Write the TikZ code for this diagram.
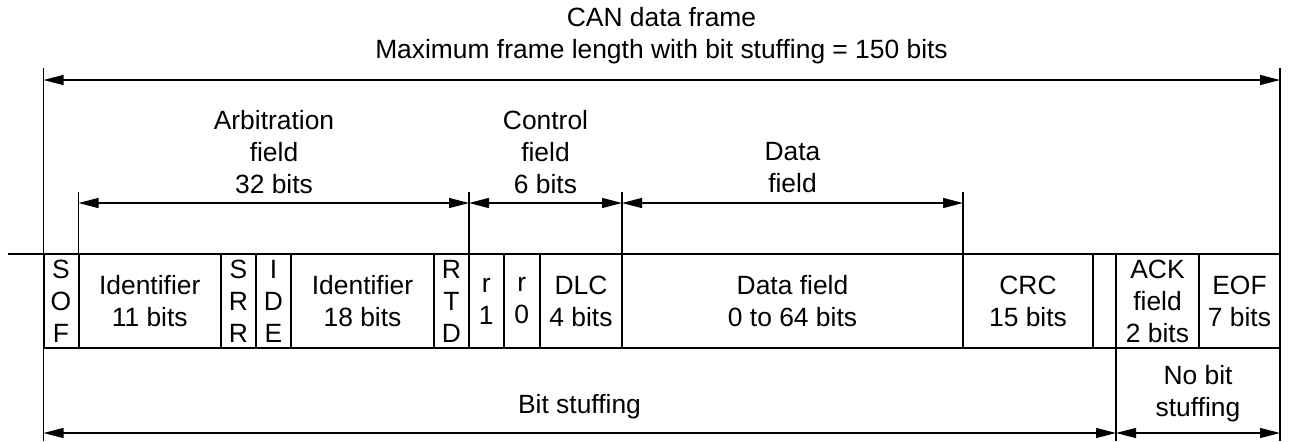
\documentclass[tikz,border=0pt]{standalone}
\usepackage{fontspec}
\setmainfont{Liberation Sans}
\usetikzlibrary{arrows.meta}
\newcommand\fsz{\fontsize{13.2}{16}\selectfont}
\begin{document}
\begin{tikzpicture}[x=0.5pt,y=-0.5pt,
  cell/.style={draw, line width=1pt, outer sep=0pt, minimum height=47pt, inner sep=0pt, align=center, font=\fsz},
  dim/.style={line width=0.6pt, {Triangle[length=10pt,width=5pt]}-{Triangle[length=10pt,width=5pt]}},
  ext/.style={line width=0.6pt},
  lbl/.style={align=center, font=\fsz, inner sep=0pt}]
\useasboundingbox (0,0) rectangle (1289,441);
% cells
\newcommand\cellnode[4]{\node[cell, minimum width={(#3-#2)*0.5pt}] (#1) at ({(#2+#3)/2},301) {#4};}
\cellnode{sof}{43.5}{78.5}{S\\O\\F}
\cellnode{ida}{78.5}{221}{Identifier\\11 bits}
\cellnode{srr}{221}{256}{S\\R\\R}
\cellnode{ide}{256}{291}{I\\D\\E}
\cellnode{idb}{291}{434}{Identifier\\18 bits}
\cellnode{rtd}{434}{469}{R\\T\\D}
\cellnode{rone}{469}{503.5}{r\\1}
\cellnode{rzero}{503.5}{540}{r\\0}
\cellnode{dlc}{540}{622}{DLC\\4 bits}
\cellnode{data}{622}{963}{Data field\\0 to 64 bits}
\cellnode{crc}{963}{1093}{CRC\\15 bits}
\cellnode{gap}{1093}{1116}{}
\cellnode{ack}{1116}{1199}{ACK\\field\\2 bits}
\cellnode{eof}{1199}{1280}{EOF\\7 bits}
% lead line
\coordinate (lead) at (8,254);
\draw[line width=1pt] (lead) -- (sof.north west);
% outer extension lines
\coordinate (Ltop) at (43.5,68);
\coordinate (Lbot) at (43.5,441);
\coordinate (Rtop) at (1280,68);
\coordinate (Rbot) at (1280,441);
\draw[ext] (Ltop) -- (Lbot);
\draw[ext] (Rtop) -- (Rbot);
\coordinate (Mbot) at (1116,441);
\draw[ext] (ack.south west) -- (Mbot);
% top extension lines
\coordinate (e1) at (78.5,192);
\coordinate (e2) at (469,192);
\coordinate (e3) at (622,192);
\coordinate (e4) at (963,192);
\draw[ext] (ida.north west) -- (e1);
\draw[ext] (rone.north west) -- (e2);
\draw[ext] (data.north west) -- (e3);
\draw[ext] (crc.north west) -- (e4);
% dimension arrows
\coordinate (fL) at (43.5,80);
\coordinate (fR) at (1280,80);
\draw[dim] (fL) -- (fR);
\coordinate (a1) at (78.5,203);
\coordinate (a2) at (469,203);
\coordinate (a3) at (622,203);
\coordinate (a4) at (963,203);
\draw[dim] (a1) -- (a2);
\draw[dim] (a2) -- (a3);
\draw[dim] (a3) -- (a4);
\coordinate (b1) at (43.5,433);
\coordinate (b2) at (1116,433);
\coordinate (b3) at (1280,433);
\draw[dim] (b1) -- (b2);
\draw[dim] (b2) -- (b3);
% labels
\node[lbl] (title) at (661.5,36) {CAN data frame\\Maximum frame length with bit stuffing = 150 bits};
\node[lbl] (arb) at (274,152) {Arbitration\\field\\32 bits};
\node[lbl] (ctl) at (545.5,152) {Control\\field\\6 bits};
\node[lbl] (dfl) at (792.5,167.5) {Data\\field};
\node[lbl] (bst) at (579.5,407) {Bit stuffing};
\node[lbl] (nbs) at (1198,393.5) {No bit\\stuffing};
\end{tikzpicture}
\end{document}
